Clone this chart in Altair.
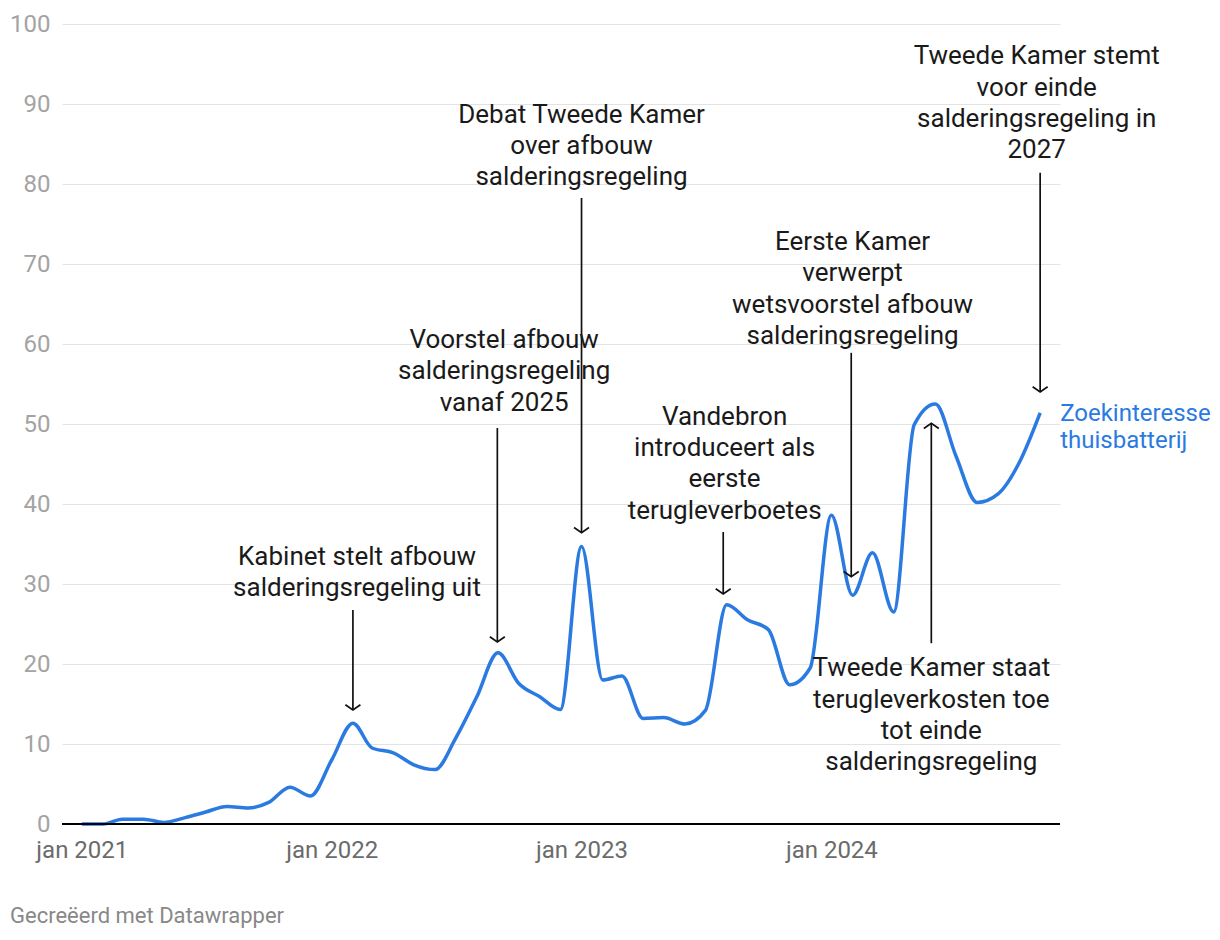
import altair as alt
import pandas as pd

# ---- data ----
months = pd.date_range("2021-01-01", periods=47, freq="MS").strftime("%Y-%m-%dT00:00:00").tolist()
values = [0.0, 0.0, 0.6, 0.6, 0.2, 0.8, 1.5, 2.2, 2.0, 2.7, 4.6, 3.5,
          8.0, 12.6, 9.5, 8.9, 7.4, 6.8, 10.7, 15.9, 21.4, 17.6, 15.9, 14.3,
          34.7, 18.0, 18.5, 13.2, 13.3, 12.5, 14.2, 27.4, 25.5, 24.3, 17.4, 19.5,
          38.6, 28.6, 33.9, 26.5, 49.9, 52.5, 46.0, 40.2, 41.3, 45.1, 51.4]

ann_text = [
    "Kabinet stelt afbouw\nsalderingsregeling uit",
    "Voorstel afbouw\nsalderingsregeling\nvanaf 2025",
    "Debat Tweede Kamer\nover afbouw\nsalderingsregeling",
    "Vandebron\nintroduceert als\neerste\nterugleverboetes",
    "Eerste Kamer\nverwerpt\nwetsvoorstel afbouw\nsalderingsregeling",
    "Tweede Kamer staat\nterugleverkosten toe\ntot einde\nsalderingsregeling",
    "Tweede Kamer stemt\nvoor einde\nsalderingsregeling in\n2027",
]
ann_text_date = ["2022-02-07T00:00:00", "2022-09-10T00:00:00", "2023-01-01T00:00:00",
                 "2023-07-29T00:00:00", "2024-02-01T00:00:00", "2024-05-26T00:00:00",
                 "2024-10-27T00:00:00"]
# value at the centre of each annotation's first line
ann_text_y = [33.4, 60.5, 88.65, 50.9, 72.75, 19.45, 95.95]

arrow_date = ["2022-02-01T00:00:00", "2022-08-31T00:00:00", "2023-01-01T00:00:00",
              "2023-07-27T00:00:00", "2024-01-30T00:00:00", "2024-05-26T00:00:00",
              "2024-11-01T00:00:00"]
arrow_from = [26.75, 49.5, 78.25, 36.5, 58.9, 22.6, 81.4]
arrow_to = [14.25, 22.75, 36.4, 28.75, 30.9, 50.1, 54.0]

series_label = "Zoekinteresse\nthuisbatterij"
series_label_date = "2024-11-01T00:00:00"
series_label_y = 51.25

year_ticks = [2021, 2022, 2023, 2024]
y_ticks = list(range(0, 101, 10))
credit = "Gecreëerd met Datawrapper"

# ---- tables ----
df = pd.DataFrame({"date": months, "value": values})
ann = pd.DataFrame({"text": ann_text, "date": ann_text_date, "y": ann_text_y})
arr = pd.DataFrame({"date": arrow_date, "y1": arrow_from, "y2": arrow_to})
arr["dir"] = ["down" if a > b else "up" for a, b in zip(arrow_from, arrow_to)]
lab = pd.DataFrame({"text": [series_label], "date": [series_label_date], "y": [series_label_y]})

BLUE = "#2a7ae2"
FONT = "Roboto"

xscale = alt.Scale(domain=[alt.DateTime(year=2020, month=12, date=3),
                           alt.DateTime(year=2024, month=11, date=30)])
yscale = alt.Scale(domain=[0, 100], nice=False)

xaxis = alt.Axis(values=[alt.DateTime(year=y, month=1, date=1) for y in year_ticks],
                 labelExpr="'jan ' + timeFormat(datum.value, '%Y')",
                 grid=False, domain=False, ticks=False, labelFlush=False,
                 labelFont=FONT, labelFontSize=24, labelColor="#6b6b6b",
                 labelPadding=14, title=None)
yaxis = alt.Axis(values=y_ticks, grid=True, gridColor="#e3e3e3", gridWidth=1,
                 domain=False, ticks=False, labelFont=FONT, labelFontSize=24,
                 labelColor="#a3a3a3", labelPadding=12, title=None)

line = alt.Chart(df).mark_line(interpolate="monotone", color=BLUE, strokeWidth=3.5).encode(
    x=alt.X("date:T", scale=xscale, axis=xaxis),
    y=alt.Y("value:Q", scale=yscale, axis=yaxis),
)

zero = alt.Chart(pd.DataFrame({"y": [0]})).mark_rule(color="#000000", strokeWidth=2).encode(
    y=alt.Y("y:Q", scale=yscale)
)

shafts = alt.Chart(arr).mark_rule(color="#111111", strokeWidth=1.7).encode(
    x=alt.X("date:T", scale=xscale),
    y=alt.Y("y1:Q", scale=yscale),
    y2="y2:Q",
)

heads_down = alt.Chart(arr[arr["dir"] == "down"]).mark_point(
    shape="M-1,-0.7L0,0L1,-0.7", filled=False, color="#111111", strokeWidth=1.7,
    size=225, opacity=1
).encode(x=alt.X("date:T", scale=xscale), y=alt.Y("y2:Q", scale=yscale))

heads_up = alt.Chart(arr[arr["dir"] == "up"]).mark_point(
    shape="M-1,0.7L0,0L1,0.7", filled=False, color="#111111", strokeWidth=1.7,
    size=225, opacity=1
).encode(x=alt.X("date:T", scale=xscale), y=alt.Y("y2:Q", scale=yscale))

texts = alt.Chart(ann).mark_text(
    font=FONT, fontSize=26, color="#1a1a1a", align="center", baseline="middle",
    lineBreak="\n", lineHeight=31.3
).encode(x=alt.X("date:T", scale=xscale), y=alt.Y("y:Q", scale=yscale), text="text:N")

label = alt.Chart(lab).mark_text(
    font=FONT, fontSize=24, color=BLUE, align="left", baseline="middle",
    lineBreak="\n", lineHeight=27, dx=20
).encode(x=alt.X("date:T", scale=xscale), y=alt.Y("y:Q", scale=yscale), text="text:N")

credit_mark = alt.Chart(pd.DataFrame({"t": [credit]})).mark_text(
    font=FONT, fontSize=22, color="#888888", align="left", baseline="middle"
).encode(x=alt.value(-52), y=alt.value(892), text="t:N")

chart = alt.layer(line, zero, shafts, heads_down, heads_up, texts, label, credit_mark).properties(
    width=998, height=800,
    autosize=alt.AutoSizeParams(type="none"),
    padding={"left": 62, "top": 24, "right": 160, "bottom": 116},
    background="white",
).configure_view(stroke=None)

chart.save("out.html", embed_options={"renderer": "svg", "actions": False})
